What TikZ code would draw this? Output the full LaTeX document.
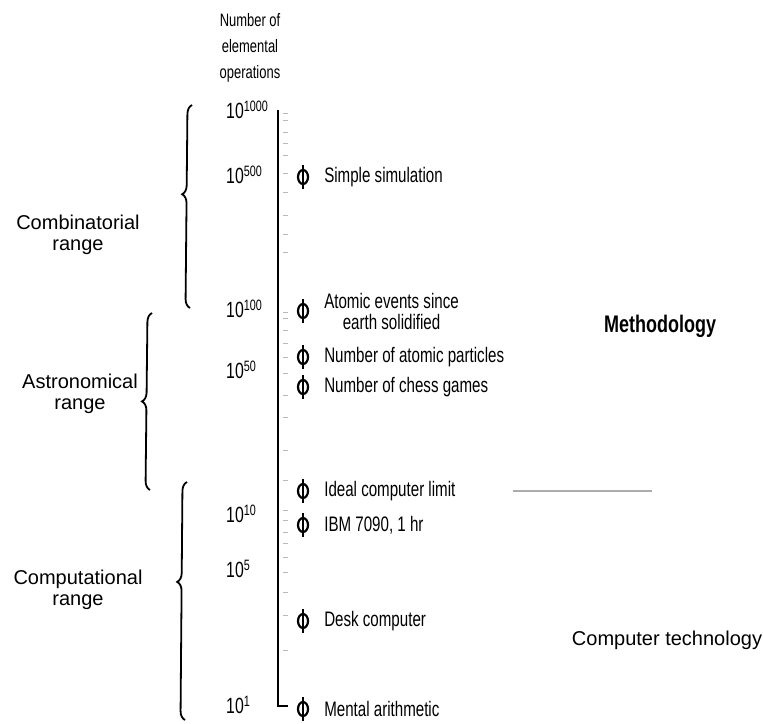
\documentclass[tikz,border=0pt]{standalone}
\usepackage{fontspec}
\setmainfont{Liberation Sans}[FakeStretch=0.72]
\usetikzlibrary{positioning,shapes.geometric,decorations.pathreplacing}

\newcommand{\pten}[1]{10\raisebox{7pt}{\fontsize{15}{15}\selectfont #1}}

\tikzset{
  opmark/.style={draw, ellipse, line width=2.2pt, minimum width=10pt, minimum height=14pt, inner sep=0pt},
  oplabel/.style={font=\fontsize{21}{21}\selectfont, inner sep=0pt, align=center},
  explabel/.style={font=\fontsize{22}{22}\selectfont, anchor=base west, inner sep=0pt},
  rangelabel/.style={font=\addfontfeature{FakeStretch=1.0}\fontsize{20}{21}\selectfont, align=center, inner sep=0pt},
  rangebrace/.style={decorate, decoration={brace, amplitude=9pt, aspect=#1}, line width=1.8pt},
  rangebrace/.default=0.5,
  axisline/.style={line width=2.4pt},
  tickmark/.style={gray!55, line width=0.8pt},
  sidelabel/.style={font=\addfontfeature{FakeStretch=1.0}\fontsize{20}{24}\selectfont, inner sep=0pt},
}

\begin{document}
\begin{tikzpicture}[x=1pt,y=1pt]
\useasboundingbox (0,0) rectangle (763,-723);

% heading of the scale
\node[align=center, inner sep=0pt, font=\fontsize{18}{26}\selectfont] (head) at (250,-48) {Number of\\elemental\\operations};

% the scale
\coordinate (axtop) at (278,-110);
\coordinate (axbot) at (278,-706);
\draw[axisline] (axtop) -- (axbot) -- ++(10,0);
\foreach \t in {113,120,132,143,155,173,192,215,234,252,312,318,330,343,357,373,395,417,450,480,510,520,532,543,557,572,592,615,650}
  \draw[tickmark] (283,-\t) -- (288,-\t);

% powers of ten
\node[explabel] (e1000) at (226,-118) {\pten{1000}};
\node[explabel] (e500) at (226,-183) {\pten{500}};
\node[explabel] (e100) at (226,-317) {\pten{100}};
\node[explabel] (e50) at (226,-378) {\pten{50}};
\node[explabel] (e10) at (226,-522) {\pten{10}};
\node[explabel] (e5) at (226,-577) {\pten{5}};
\node[explabel] (e1) at (226,-713) {\pten{1}};

% markers and what they stand for
\node[opmark] (sim) at (303,-177) {};
\node[opmark] (atom) at (303,-311) {};
\node[opmark] (part) at (303,-357) {};
\node[opmark] (chess) at (303,-387) {};
\node[opmark] (ideal) at (303,-491) {};
\node[opmark] (ibm) at (303,-525) {};
\node[opmark] (desk) at (303,-621) {};
\node[opmark] (mental) at (303,-709) {};
\foreach \m in {sim,atom,part,chess,ideal,ibm,desk,mental}
  \draw[line width=1.4pt] ([yshift=4pt]\m.north) -- ([yshift=-4pt]\m.south);

\node[oplabel, right=15pt of sim] (simtxt) {Simple simulation};
\node[oplabel, right=15pt of atom] (atomtxt) {Atomic events since\\earth solidified};
\node[oplabel, right=15pt of part] (parttxt) {Number of atomic particles};
\node[oplabel, right=15pt of chess] (chesstxt) {Number of chess games};
\node[oplabel, right=15pt of ideal] (idealtxt) {Ideal computer limit};
\node[oplabel, right=15pt of ibm] (ibmtxt) {IBM 7090, 1 hr};
\node[oplabel, right=15pt of desk] (desktxt) {Desk computer};
\node[oplabel, right=15pt of mental] (mentaltxt) {Mental arithmetic};

% limit line
\coordinate (limA) at (513,-491);
\coordinate (limB) at (652,-491);
\draw[gray!65, line width=2pt] (limA) -- (limB);

% ranges
\coordinate (cmbbot) at (190,-308);
\coordinate (cmbtop) at (192,-105);
\coordinate (astbot) at (150,-490);
\coordinate (asttop) at (152,-313);
\coordinate (cmpbot) at (185,-720);
\coordinate (cmptop) at (187,-482);
\draw[rangebrace=0.56] (cmbbot) -- (cmbtop);
\draw[rangebrace=0.5] (astbot) -- (asttop);
\draw[rangebrace=0.58] (cmpbot) -- (cmptop);
\node[rangelabel] (comb) at (78,-235) {Combinatorial\\range};
\node[rangelabel] (astro) at (80,-394) {Astronomical\\range};
\node[rangelabel] (comp) at (78,-590) {Computational\\range};

% methods side
\node[sidelabel, font=\addfontfeature{FakeStretch=0.75}\fontsize{24}{24}\selectfont\bfseries] (meth) at (660,-326) {Methodology};
\node[sidelabel] (ctech) at (667,-640) {Computer technology};
\end{tikzpicture}
\end{document}
